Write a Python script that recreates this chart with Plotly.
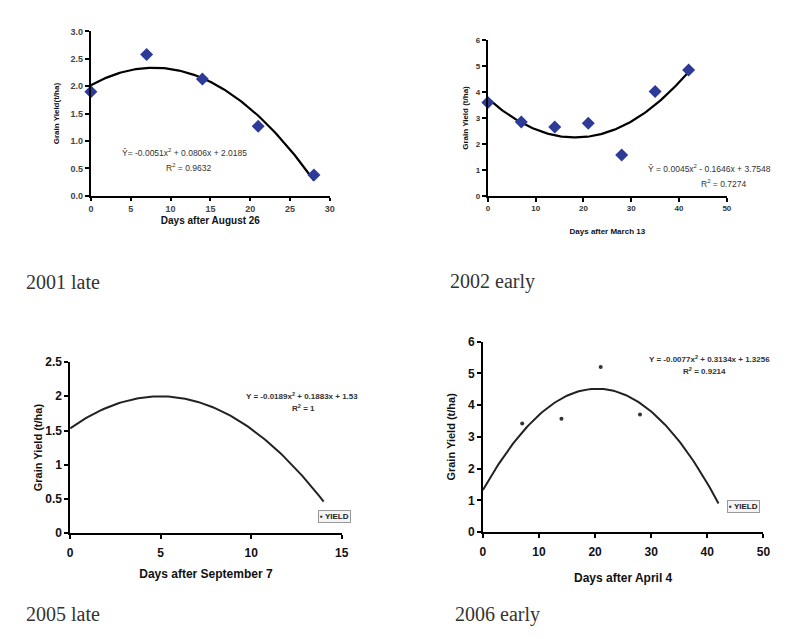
import numpy as np
import plotly.graph_objects as go

W, H = 800, 639

# ---- data ----
p1_days = [0, 7, 14, 21, 28]
p1_yield = [1.90, 2.58, 2.13, 1.27, 0.38]
p1_coef = [-0.0051, 0.0806, 2.0185]
p1_eq = "Ŷ= -0.0051x<sup>2</sup> + 0.0806x + 2.0185"
p1_r2 = "R<sup>2</sup> = 0.9632"

p2_days = [0, 7, 14, 21, 28, 35, 42]
p2_yield = [3.60, 2.85, 2.65, 2.80, 1.57, 4.02, 4.85]
p2_coef = [0.0045, -0.1646, 3.7548]
p2_eq = "Ŷ = 0.0045x<sup>2</sup> - 0.1646x + 3.7548"
p2_r2 = "R<sup>2</sup> = 0.7274"

p3_coef = [-0.0189, 0.1883, 1.53]
p3_xmax = 14
p3_eq = "Y = -0.0189x<sup>2</sup> + 0.1883x + 1.53"
p3_r2 = "R<sup>2</sup> = 1"

p4_days = [7, 14, 21, 28]
p4_yield = [3.42, 3.57, 5.20, 3.70]
p4_coef = [-0.0077, 0.3134, 1.3256]
p4_xmax = 42
p4_eq = "Y = -0.0077x<sup>2</sup> + 0.3134x + 1.3256"
p4_r2 = "R<sup>2</sup> = 0.9214"

panel_labels = ["2001 late", "2002 early", "2005 late", "2006 early"]
x_titles = ["Days after August 26", "Days after March 13", "Days after September 7", "Days after April 4"]
y_titles = ["Grain Yield(t/ha)", "Grain Yield (t/ha)", "Grain Yield (t/ha)", "Grain Yield (t/ha)"]


def px(x):
    return x / W


def py(y):
    return 1 - y / H


def fit_line(coef, xmax):
    xs = np.linspace(0, xmax, 120)
    return xs, np.polyval(coef, xs)


fig = go.Figure()
BLUE = "#2e3a98"

# panel 1
fx, fy = fit_line(p1_coef, max(p1_days))
fig.add_trace(go.Scatter(x=fx, y=fy, mode="lines", line=dict(color="black", width=2.2),
                         xaxis="x", yaxis="y", showlegend=False, hoverinfo="skip"))
fig.add_trace(go.Scatter(x=p1_days, y=p1_yield, mode="markers", cliponaxis=False,
                         marker=dict(symbol="diamond", size=10, color=BLUE),
                         xaxis="x", yaxis="y", name="YIELD", showlegend=False))
# panel 2
fx, fy = fit_line(p2_coef, max(p2_days))
fig.add_trace(go.Scatter(x=fx, y=fy, mode="lines", line=dict(color="black", width=2.2),
                         xaxis="x2", yaxis="y2", showlegend=False, hoverinfo="skip"))
fig.add_trace(go.Scatter(x=p2_days, y=p2_yield, mode="markers", cliponaxis=False,
                         marker=dict(symbol="diamond", size=10, color=BLUE),
                         xaxis="x2", yaxis="y2", name="YIELD", showlegend=False))
# panel 3
fx, fy = fit_line(p3_coef, p3_xmax)
fig.add_trace(go.Scatter(x=fx, y=fy, mode="lines", line=dict(color="#222", width=2),
                         xaxis="x3", yaxis="y3", showlegend=False, hoverinfo="skip"))
# panel 4
fx, fy = fit_line(p4_coef, p4_xmax)
fig.add_trace(go.Scatter(x=fx, y=fy, mode="lines", line=dict(color="#222", width=2),
                         xaxis="x4", yaxis="y4", showlegend=False, hoverinfo="skip"))
fig.add_trace(go.Scatter(x=p4_days, y=p4_yield, mode="markers", cliponaxis=False,
                         marker=dict(symbol="circle", size=4, color="#333"),
                         xaxis="x4", yaxis="y4", name="YIELD", showlegend=False))


def axis(domain, rng, dtick, anchor, title, tsize, lsize, lw, standoff, fmt=None, color="#333",
         ticklen=4, tlstand=0):
    d = dict(domain=domain, range=rng, dtick=dtick, tick0=0, anchor=anchor,
             showgrid=False, zeroline=False, showline=True, linecolor="black", linewidth=lw,
             ticks="outside", ticklen=ticklen, tickwidth=1.5, tickcolor="black",
             ticklabelstandoff=tlstand,
             tickfont=dict(family="Liberation Sans", size=tsize, color=color, weight="bold"),
             title=dict(text=title, standoff=standoff,
                        font=dict(family="Liberation Sans", size=lsize, color="#111", weight="bold")),
             fixedrange=True)
    if fmt:
        d["tickformat"] = fmt
    return d


layout = dict(
    width=W, height=H, margin=dict(l=0, r=0, t=0, b=0),
    paper_bgcolor="white", plot_bgcolor="white", showlegend=False,
    xaxis=axis([px(89), px(331)], [0, 30], 5, "y", x_titles[0], 9, 10, 2.2, 4, None, "#444", ticklen=3),
    yaxis=axis([py(193), py(25)], [0, 3], 0.5, "x", y_titles[0], 9, 8, 2.2, 10, ".1f", "#444"),
    xaxis2=axis([px(491), px(733)], [0, 50], 10, "y2", x_titles[1], 8, 8, 2.2, 16),
    yaxis2=axis([py(193), py(34)], [0, 6], 1, "x2", y_titles[1], 8, 8, 2.2, 6),
    xaxis3=axis([px(68), px(343)], [0, 15], 5, "y3", x_titles[2], 12, 12, 1.6, 10, None, "#111",
                tlstand=4),
    yaxis3=axis([py(538), py(363)], [0, 2.5], 0.5, "x3", y_titles[2], 12, 11, 1.6, 0, None, "#111"),
    xaxis4=axis([px(486), px(770)], [0, 50], 10, "y4", x_titles[3], 12, 12, 1.6, 15, None, "#111",
                tlstand=4),
    yaxis4=axis([py(537), py(342)], [0, 6], 1, "x4", y_titles[3], 12, 11, 1.6, 10, None, "#111"),
)
fig.update_layout(**layout)

ann = []


def text(x, y, s, size, color="#333", bold=False, family="Liberation Sans", xanchor="center", **kw):
    ann.append(dict(x=px(x), y=py(y), xref="paper", yref="paper", text=s, showarrow=False,
                    xanchor=xanchor, yanchor="middle",
                    font=dict(family=family, size=size, color=color, weight="bold" if bold else "normal"),
                    **kw))


# equations
text(184, 149, p1_eq, 8.5)
text(188, 164, p1_r2, 8.5)
text(715, 165, p2_eq, 8.5)
text(730, 180, p2_r2, 8.5)
text(303, 398, p3_eq, 8, bold=True)
text(304, 410, p3_r2, 8, bold=True)
text(715, 360, p4_eq, 8, bold=True)
text(710, 372, p4_r2, 8, bold=True)

# legend boxes
text(336, 521, "▪ YIELD", 8, color="#222", bold=True, bordercolor="#999", borderwidth=1,
     bgcolor="#f4f4f4", borderpad=1)
text(750, 511, "▪ YIELD", 8, color="#222", bold=True, bordercolor="#999", borderwidth=1,
     bgcolor="#f4f4f4", borderpad=1)

# panel labels
text(21, 281, panel_labels[0], 20, color="#333", family="Liberation Serif", xanchor="left")
text(451, 281, panel_labels[1], 20, color="#333", family="Liberation Serif", xanchor="left")
text(21, 621, panel_labels[2], 20, color="#333", family="Liberation Serif", xanchor="left")
text(456, 621, panel_labels[3], 20, color="#333", family="Liberation Serif", xanchor="left")

fig.update_layout(annotations=ann)

fig.write_html("out.html", config={"displayModeBar": False},
               post_script="document.body.style.margin='0';document.documentElement.style.overflow='hidden';")
